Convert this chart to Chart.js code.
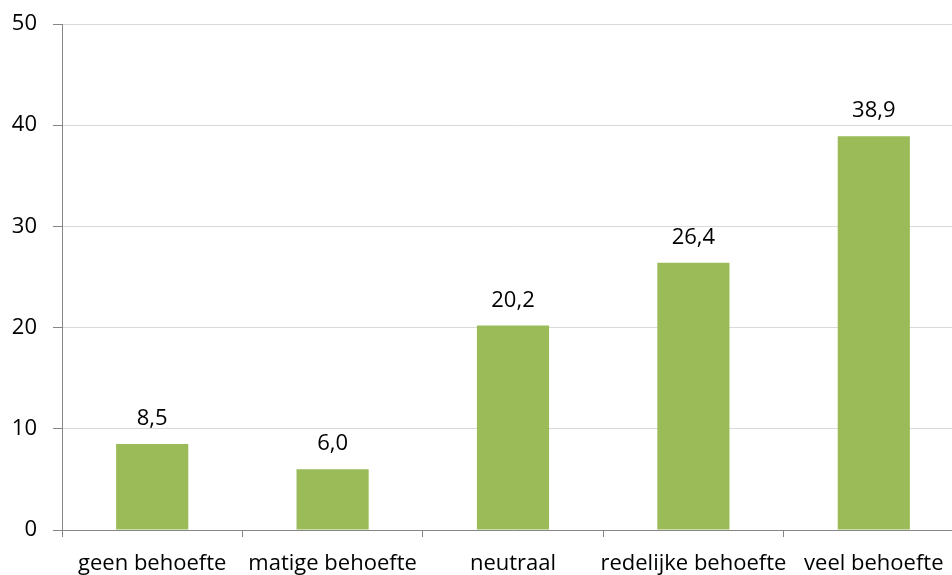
<!DOCTYPE html>
<html>
<head>
<meta charset="utf-8">
<script src="https://cdn.jsdelivr.net/npm/chart.js@4"></script>
<style>
  html, body { margin: 0; padding: 0; background: #fff; overflow: hidden; }
  #wrap { position: relative; width: 964px; height: 575px; }
</style>
</head>
<body>
<div id="wrap"><canvas id="c"></canvas></div>
<script>
const categories = ['geen behoefte', 'matige behoefte', 'neutraal', 'redelijke behoefte', 'veel behoefte'];
const values = [8.5, 6.0, 20.2, 26.4, 38.9];
const yTicks = [0, 10, 20, 30, 40, 50];

const FONT = 'Open Sans';
const FONT_SIZE = 22;

// Draws each bar's value (with a decimal comma) above the bar.
const valueLabels = {
  id: 'valueLabels',
  afterDatasetsDraw(chart) {
    const { ctx } = chart;
    const meta = chart.getDatasetMeta(0);
    ctx.save();
    ctx.font = FONT_SIZE + 'px "' + FONT + '"';
    ctx.fillStyle = '#000';
    ctx.textAlign = 'center';
    ctx.textBaseline = 'alphabetic';
    meta.data.forEach((bar, i) => {
      const txt = values[i].toFixed(1).replace('.', ',');
      ctx.fillText(txt, bar.x, bar.y - 19);
    });
    ctx.restore();
  }
};

new Chart(document.getElementById('c'), {
  type: 'bar',
  data: {
    labels: categories,
    datasets: [{
      data: values,
      backgroundColor: '#9BBB59',
      borderWidth: 0,
      barPercentage: 0.4,
      categoryPercentage: 1.0
    }]
  },
  options: {
    responsive: true,
    maintainAspectRatio: false,
    animation: false,
    layout: { padding: { top: 24, right: 0, bottom: 0, left: 0 } },
    plugins: { legend: { display: false }, tooltip: { enabled: false } },
    scales: {
      x: {
        grid: {
          offset: true,
          drawOnChartArea: false,
          drawTicks: true,
          tickLength: 7,
          color: '#868686',
          lineWidth: 1
        },
        border: { display: true, color: '#868686', width: 1 },
        ticks: {
          color: '#000',
          font: { family: FONT, size: FONT_SIZE },
          padding: 14,
          maxRotation: 0,
          autoSkip: false
        },
        afterFit(scale) { scale.height = 45; }
      },
      y: {
        min: 0,
        max: 50,
        afterBuildTicks(scale) { scale.ticks = yTicks.map(v => ({ value: v })); },
        grid: {
          color: '#D9D9D9',
          lineWidth: 1,
          drawTicks: true,
          tickLength: 9,
          tickColor: '#868686'
        },
        border: { display: true, color: '#868686', width: 1 },
        ticks: {
          color: '#000',
          font: { family: FONT, size: FONT_SIZE },
          padding: 16
        },
        afterFit(scale) {
          scale.width = 62;
          scale.paddingTop = 0;
          scale.paddingBottom = 0;
        }
      }
    }
  },
  plugins: [valueLabels]
});
</script>
</body>
</html>
